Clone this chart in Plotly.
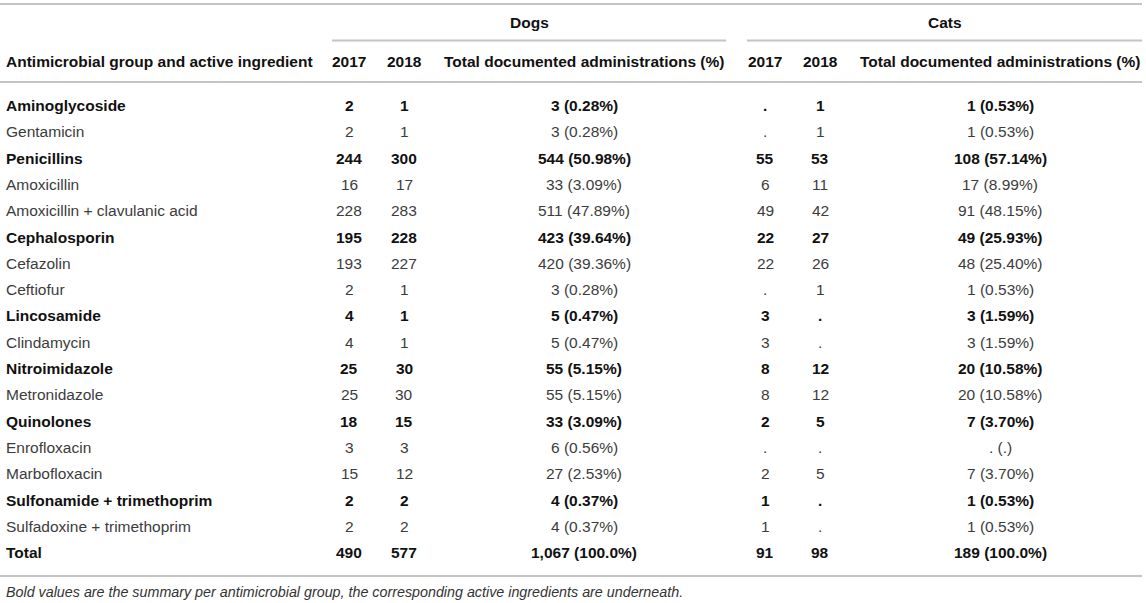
import plotly.graph_objects as go

# ---------------- data ----------------
labels = ["Aminoglycoside", "Gentamicin", "Penicillins", "Amoxicillin",
          "Amoxicillin + clavulanic acid", "Cephalosporin", "Cefazolin", "Ceftiofur",
          "Lincosamide", "Clindamycin", "Nitroimidazole", "Metronidazole",
          "Quinolones", "Enrofloxacin", "Marbofloxacin",
          "Sulfonamide + trimethoprim", "Sulfadoxine + trimethoprim", "Total"]
is_group = [1, 0, 1, 0, 0, 1, 0, 0, 1, 0, 1, 0, 1, 0, 0, 1, 0, 1]

dogs_2017 = [2, 2, 244, 16, 228, 195, 193, 2, 4, 4, 25, 25, 18, 3, 15, 2, 2, 490]
dogs_2018 = [1, 1, 300, 17, 283, 228, 227, 1, 1, 1, 30, 30, 15, 3, 12, 2, 2, 577]
dogs_total = [3, 3, 544, 33, 511, 423, 420, 3, 5, 5, 55, 55, 33, 6, 27, 4, 4, 1067]
dogs_pct = [0.28, 0.28, 50.98, 3.09, 47.89, 39.64, 39.36, 0.28, 0.47, 0.47,
            5.15, 5.15, 3.09, 0.56, 2.53, 0.37, 0.37, 100.0]

cats_2017 = [None, None, 55, 6, 49, 22, 22, None, 3, 3, 8, 8, 2, None, 2, 1, 1, 91]
cats_2018 = [1, 1, 53, 11, 42, 27, 26, 1, None, None, 12, 12, 5, None, 5, None, None, 98]
cats_total = [1, 1, 108, 17, 91, 49, 48, 1, 3, 3, 20, 20, 7, None, 7, 1, 1, 189]
cats_pct = [0.53, 0.53, 57.14, 8.99, 48.15, 25.93, 25.40, 0.53, 1.59, 1.59,
            10.58, 10.58, 3.70, None, 3.70, 0.53, 0.53, 100.0]

group_headers = ["Dogs", "Cats"]
col_headers = ["Antimicrobial group and active ingredient", "2017", "2018",
               "Total documented administrations (%)", "2017", "2018",
               "Total documented administrations (%)"]
footnote = ("Bold values are the summary per antimicrobial group, "
            "the corresponding active ingredients are underneath.")

# ---------------- helpers ----------------
def fmt_n(v):
    return "." if v is None else f"{v:,}"

def fmt_pct(v):
    if v is None:
        return "."
    return f"{v:.1f}%" if v >= 100 else f"{v:.2f}%"

def fmt_tot(n, p):
    return f"{fmt_n(n)} ({fmt_pct(p)})"

# ---------------- layout / style ----------------
W, H = 1146, 603
FONT = "Liberation Sans"
FS = 15.5
BOLD_COLOR = "#111111"
REG_COLOR = "#3c3c3c"
LINE_COLOR = "#c4c4c4"

col_x = [4, 349, 404, 584, 765, 820, 1000]
col_anchor = ["left", "center", "center", "center", "center", "center", "center"]
row0_y, row_step = 105.5, 26.3
header_y, group_y = 61.5, 22
foot_y = 592

fig = go.Figure()
fig.add_trace(go.Scatter(x=[0, W], y=[0, H], mode="markers",
                         marker=dict(opacity=0), hoverinfo="skip", showlegend=False))

ann = []

def add_text(x, y, text, bold, anchor="center", size=FS, italic=False, color=None):
    ann.append(dict(
        x=x, y=y, xref="x", yref="y", text=text, showarrow=False,
        xanchor=anchor, yanchor="middle",
        font=dict(family=FONT, size=size,
                  color=color if color else (BOLD_COLOR if bold else REG_COLOR),
                  weight="bold" if bold else "normal",
                  style="italic" if italic else "normal"),
    ))

# group headers
add_text((332 + 726) / 2, group_y, group_headers[0], True)
add_text((747 + 1142) / 2, group_y, group_headers[1], True)

# column headers
for j, h in enumerate(col_headers):
    add_text(col_x[j], header_y, h, True, col_anchor[j])

# body
for i, lab in enumerate(labels):
    y = row0_y + i * row_step
    b = bool(is_group[i])
    cells = [lab, fmt_n(dogs_2017[i]), fmt_n(dogs_2018[i]),
             fmt_tot(dogs_total[i], dogs_pct[i]),
             fmt_n(cats_2017[i]), fmt_n(cats_2018[i]),
             fmt_tot(cats_total[i], cats_pct[i])]
    for j, c in enumerate(cells):
        add_text(col_x[j], y, c, b, col_anchor[j])

# footnote
add_text(4, foot_y, footnote, False, "left", size=14.3, italic=True, color="#333333")

shapes = []
def hline(x0, x1, y):
    shapes.append(dict(type="line", xref="x", yref="y", x0=x0, x1=x1, y0=y, y1=y,
                       line=dict(color=LINE_COLOR, width=2)))

hline(0, 1142, 4)
hline(332, 726, 40.5)
hline(747, 1142, 40.5)
hline(0, 1142, 82)
hline(0, 1142, 576)

fig.update_layout(
    width=W, height=H,
    margin=dict(l=0, r=0, t=0, b=0),
    paper_bgcolor="white", plot_bgcolor="white",
    xaxis=dict(range=[0, W], visible=False, fixedrange=True),
    yaxis=dict(range=[H, 0], visible=False, fixedrange=True),
    annotations=ann, shapes=shapes,
    showlegend=False,
)

fig.write_html("out.html", config={"displayModeBar": False},
               post_script="document.body.style.margin='0px';"
                           "document.body.style.overflow='hidden';")
